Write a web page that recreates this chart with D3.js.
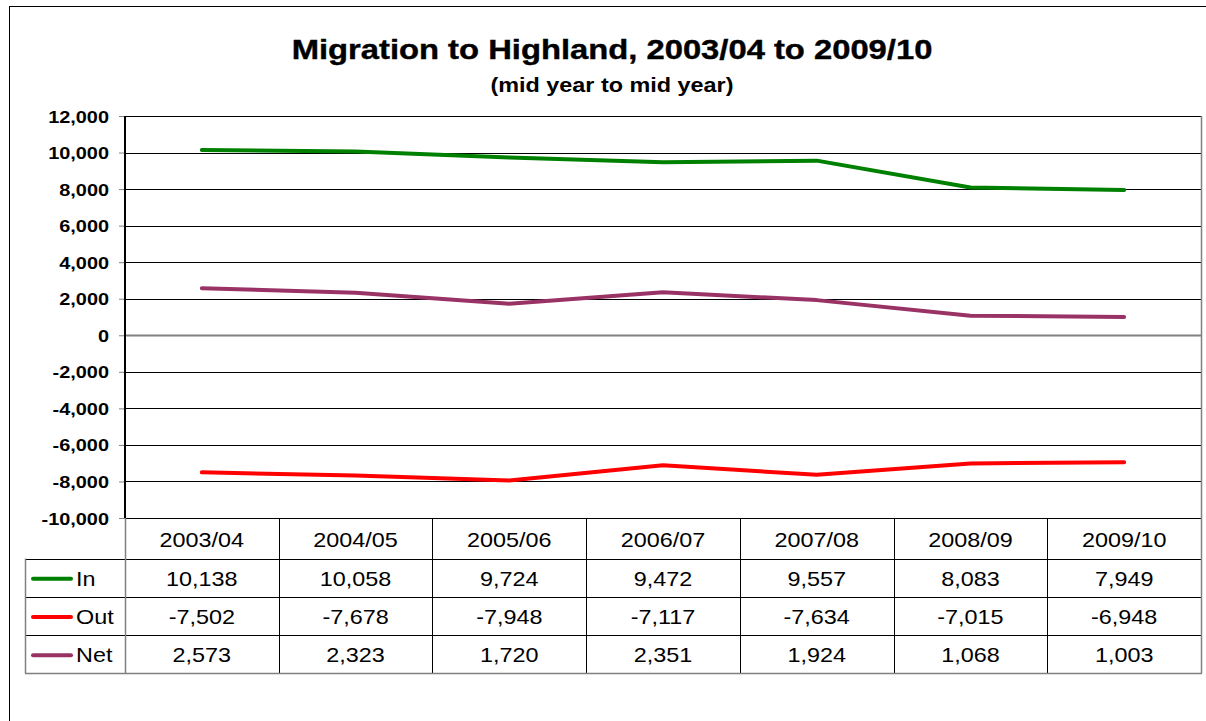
<!DOCTYPE html>
<html>
<head>
<meta charset="utf-8">
<script src="https://cdn.jsdelivr.net/npm/d3@7"></script>
<style>
  html, body { margin: 0; padding: 0; background: #fff; }
  svg { display: block; }
  text { font-family: Arial, "Liberation Sans", sans-serif; fill: #000; }
</style>
</head>
<body>
<svg id="chart" width="1206" height="721"></svg>
<script>
// Migration flows, mid year to mid year
const years = ["2003/04", "2004/05", "2005/06", "2006/07", "2007/08", "2008/09", "2009/10"];
const inValues  = [10138, 10058, 9724, 9472, 9557, 8083, 7949];
const outValues = [-7502, -7678, -7948, -7117, -7634, -7015, -6948];
const netValues = [2573, 2323, 1720, 2351, 1924, 1068, 1003];
const seriesNames = ["In", "Out", "Net"];
const seriesColors = ["#008000", "#FF0000", "#993366"];
const yTicks = [-10000, -8000, -6000, -4000, -2000, 0, 2000, 4000, 6000, 8000, 10000, 12000];

const series = [inValues, outValues, netValues].map((values, i) => ({
  name: seriesNames[i], color: seriesColors[i], values
}));

const svg = d3.select("#chart");
const locale = d3.formatLocale({ decimal: ".", thousands: ",", grouping: [3], currency: ["", ""], minus: "-" });
const fmt = locale.format(",");
const SX = 1.17; // glyphs are drawn slightly wide

const plot = { left: 125, right: 1201, top: 116, bottom: 518 };
const table = { left: 25, rowTop: 558.5, rowH: 38.3 };

const x = d3.scalePoint().domain(years).range([plot.left, plot.right]).padding(0.5);
const colW = x.step();
const y = d3.scaleLinear().domain([-10000, 12000]).range([plot.bottom, plot.top]);

function label(g, str, px, py, opts) {
  const anchor = opts.anchor || "middle";
  return g.append("text")
    .attr("transform", `translate(${px},${py}) scale(${SX},1)`)
    .attr("text-anchor", anchor)
    .style("font-size", opts.size + "px")
    .style("font-weight", opts.bold ? "bold" : "normal")
    .text(str);
}

// Outer chart frame
svg.append("rect")
  .attr("x", 9.5).attr("y", 6.5)
  .attr("width", 1230).attr("height", 740)
  .attr("fill", "none").attr("stroke", "#000").attr("stroke-width", 1);

// Titles
label(svg, "Migration to Highland, 2003/04 to 2009/10", 612, 59, { size: 28, bold: true })
  .style("stroke", "#000").style("stroke-width", 0.4);
label(svg, "(mid year to mid year)", 612, 92, { size: 20, bold: true });

// Gridlines
svg.append("g").selectAll("line").data(yTicks).join("line")
  .attr("x1", plot.left).attr("x2", plot.right)
  .attr("y1", d => Math.round(y(d)) + 0.5).attr("y2", d => Math.round(y(d)) + 0.5)
  .attr("stroke", d => d === 0 ? "#808080" : "#000")
  .attr("stroke-width", d => d === 0 ? 2 : 1);

// Right plot border
svg.append("line")
  .attr("x1", plot.right + 0.5).attr("x2", plot.right + 0.5)
  .attr("y1", plot.top).attr("y2", plot.bottom)
  .attr("stroke", "#808080").attr("stroke-width", 1.5);

// Y axis
const yAxis = d3.axisLeft(y).tickValues(yTicks).tickSize(6).tickFormat(fmt);
const yg = svg.append("g").attr("transform", `translate(${plot.left},0)`).call(yAxis);
yg.select(".domain").remove();
yg.selectAll(".tick line").attr("stroke", "#808080").attr("x2", -6);
yg.selectAll(".tick text").remove();
yg.selectAll(".tick").each(function (d) {
  label(d3.select(this), fmt(d), -16, 6, { size: 17, bold: true, anchor: "end" });
});
svg.append("line")
  .attr("x1", plot.left).attr("x2", plot.left)
  .attr("y1", plot.top).attr("y2", plot.bottom)
  .attr("stroke", "#000").attr("stroke-width", 2);

// Series lines
const line = d3.line().x((d, i) => x(years[i])).y(d => y(d));
svg.append("g").selectAll("path").data(series).join("path")
  .attr("d", d => line(d.values))
  .attr("fill", "none")
  .attr("stroke", d => d.color)
  .attr("stroke-width", 4)
  .attr("stroke-linejoin", "round")
  .attr("stroke-linecap", "round");

// Data table
const tg = svg.append("g");
const rowY = i => table.rowTop + i * table.rowH;
const tableBottom = rowY(series.length);

// Category header separators and labels
tg.selectAll("line.col").data(d3.range(1, years.length)).join("line")
  .attr("class", "col")
  .attr("x1", i => Math.round(plot.left + i * colW) + 0.5)
  .attr("x2", i => Math.round(plot.left + i * colW) + 0.5)
  .attr("y1", plot.bottom).attr("y2", tableBottom)
  .attr("stroke", "#000").attr("stroke-width", 1);
years.forEach(yr => label(tg, yr, x(yr), plot.bottom + 29, { size: 20 }));

// Row lines
tg.selectAll("line.row").data(d3.range(0, series.length)).join("line")
  .attr("class", "row")
  .attr("x1", table.left).attr("x2", plot.right)
  .attr("y1", i => Math.round(rowY(i)) + 0.5).attr("y2", i => Math.round(rowY(i)) + 0.5)
  .attr("stroke", "#000").attr("stroke-width", 1);
tg.append("line")
  .attr("x1", table.left).attr("x2", plot.right + 1)
  .attr("y1", Math.round(tableBottom) + 0.5).attr("y2", Math.round(tableBottom) + 0.5)
  .attr("stroke", "#808080").attr("stroke-width", 1.5);
tg.append("line")
  .attr("x1", table.left + 0.5).attr("x2", table.left + 0.5)
  .attr("y1", table.rowTop).attr("y2", tableBottom)
  .attr("stroke", "#808080").attr("stroke-width", 1.5);
tg.append("line")
  .attr("x1", plot.left + 0.5).attr("x2", plot.left + 0.5)
  .attr("y1", plot.bottom).attr("y2", tableBottom)
  .attr("stroke", "#808080").attr("stroke-width", 1.5);
tg.append("line")
  .attr("x1", plot.right + 0.5).attr("x2", plot.right + 0.5)
  .attr("y1", plot.bottom).attr("y2", tableBottom)
  .attr("stroke", "#808080").attr("stroke-width", 1.5);

// Legend keys and values
series.forEach((s, r) => {
  const cy = rowY(r) + table.rowH / 2;
  tg.append("line")
    .attr("x1", 33).attr("x2", 71)
    .attr("y1", cy + 1).attr("y2", cy + 1)
    .attr("stroke", s.color).attr("stroke-width", 4)
    .attr("stroke-linecap", "round");
  label(tg, s.name, 76, cy + 8, { size: 20, anchor: "start" });
  s.values.forEach((v, i) => label(tg, fmt(v), x(years[i]), cy + 8, { size: 20 }));
});
</script>
</body>
</html>
